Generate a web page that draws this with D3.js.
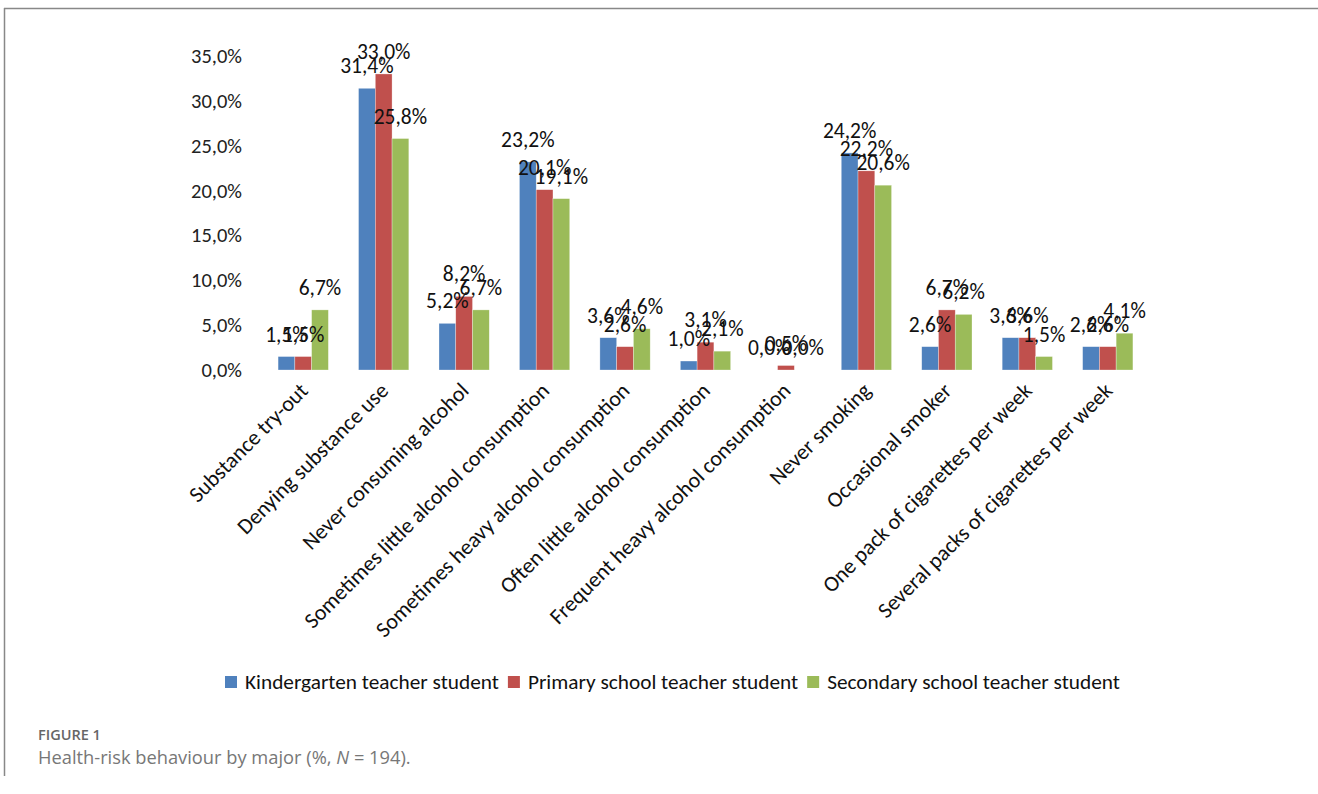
<!DOCTYPE html>
<html>
<head>
<meta charset="utf-8">
<script src="https://cdn.jsdelivr.net/npm/d3@7"></script>
<style>
  body { margin: 0; background: #fff; }
  svg text { font-family: Carlito, Lato, "Open Sans", sans-serif; }
</style>
</head>
<body>
<svg id="chart" width="1318" height="794"></svg>
<script>
const categories = [
  'Substance try-out', 'Denying substance use', 'Never consuming alcohol',
  'Sometimes little alcohol consumption', 'Sometimes heavy alcohol consumption',
  'Often little alcohol consumption', 'Frequent heavy alcohol consumption',
  'Never smoking', 'Occasional smoker', 'One pack of cigarettes per week',
  'Several packs of cigarettes per week'
];
const seriesNames = ['Kindergarten teacher student', 'Primary school teacher student', 'Secondary school teacher student'];
const kindergarten = [1.5, 31.4, 5.2, 23.2, 3.6, 1.0, 0.0, 24.2, 2.6, 3.6, 2.6];
const primary = [1.5, 33.0, 8.2, 20.1, 2.6, 3.1, 0.5, 22.2, 6.7, 3.6, 2.6];
const secondary = [6.7, 25.8, 6.7, 19.1, 4.6, 2.1, 0.0, 20.6, 6.2, 1.5, 4.1];
const yTicks = [0, 5, 10, 15, 20, 25, 30, 35];

const colors = ['#4F81BD', '#C0504D', '#9BBB59'];
const series = [kindergarten, primary, secondary];
const fmt = v => v.toFixed(1).replace('.', ',') + '%';

const svg = d3.select('#chart');

// frame lines
svg.append('line').attr('x1', 4).attr('x2', 1318).attr('y1', 8.5).attr('y2', 8.5)
  .attr('stroke', '#888').attr('stroke-width', 1.5);
svg.append('line').attr('x1', 4.5).attr('x2', 4.5).attr('y1', 8).attr('y2', 776)
  .attr('stroke', '#888').attr('stroke-width', 1.5);

const margin = { left: 263, right: 1148, top: 56, bottom: 370 };

const x = d3.scaleBand().domain(categories).range([margin.left, margin.right]).paddingInner(0.375).paddingOuter(0.1875);
const xs = d3.scaleBand().domain(d3.range(3)).range([0, x.bandwidth()]);
const y = d3.scaleLinear().domain([0, 35]).range([margin.bottom, margin.top]);

// y axis labels
const yAxis = svg.append('g').attr('transform', `translate(${margin.left - 6},0)`)
  .call(d3.axisLeft(y).tickValues(yTicks).tickFormat(fmt).tickSize(0).tickPadding(15));
yAxis.select('.domain').remove();
yAxis.selectAll('text').attr('font-size', 20.5).attr('fill', '#222')
  .style('font-family', 'Carlito, Lato, "Open Sans", sans-serif');

// bars
const groups = svg.selectAll('g.cat').data(categories).enter().append('g')
  .attr('class', 'cat')
  .attr('transform', d => `translate(${x(d)},0)`);

series.forEach((vals, s) => {
  groups.append('rect')
    .attr('x', xs(s))
    .attr('width', xs.bandwidth())
    .attr('y', (d, i) => y(vals[i]))
    .attr('height', (d, i) => y(0) - y(vals[i]))
    .attr('fill', colors[s])
    .attr('stroke', '#fff').attr('stroke-opacity', 0.5).attr('stroke-width', 0.6);
});

// value labels
series.forEach((vals, s) => {
  groups.append('text')
    .attr('x', xs(s) + xs.bandwidth() / 2)
    .attr('y', (d, i) => y(vals[i]) - 15)
    .attr('text-anchor', 'middle')
    .attr('font-size', 21.5)
    .attr('fill', '#111')
    .text((d, i) => fmt(vals[i]));
});

// category labels
svg.selectAll('text.xlab').data(categories).enter().append('text')
  .attr('class', 'xlab')
  .attr('text-anchor', 'end')
  .attr('font-size', 22)
  .attr('fill', '#111')
  .attr('transform', d => `translate(${x(d) + x.bandwidth() / 2 + 6},${margin.bottom + 22}) rotate(-45)`)
  .text(d => d);

// legend
const legend = svg.append('g').attr('transform', 'translate(225,682)');
let lx = 0;
seriesNames.forEach((name, i) => {
  const g = legend.append('g').attr('transform', `translate(${lx},0)`);
  g.append('rect').attr('x', 0).attr('y', -6).attr('width', 12).attr('height', 12).attr('fill', colors[i]);
  const t = g.append('text').attr('x', 20).attr('y', 7).attr('font-size', 21.3).attr('fill', '#111').text(name);
  lx += 20 + t.node().getComputedTextLength() + 9;
});

// caption
svg.append('text').attr('x', 38).attr('y', 740).attr('font-size', 14.5).attr('font-weight', 600)
  .attr('fill', '#666').style('font-family', '"Open Sans", sans-serif').text('FIGURE 1');
const cap = svg.append('text').attr('x', 38).attr('y', 764).attr('font-size', 18.3)
  .attr('fill', '#777').style('font-family', '"Open Sans", sans-serif');
cap.append('tspan').text('Health-risk behaviour by major (%, ');
cap.append('tspan').attr('font-style', 'italic').text('N');
cap.append('tspan').text(' = 194).');
</script>
</body>
</html>
